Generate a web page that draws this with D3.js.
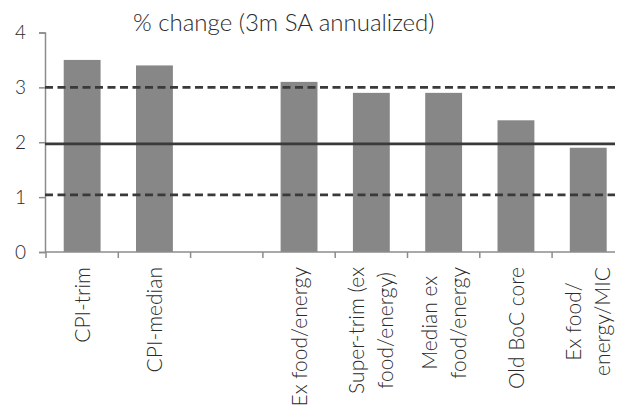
<!DOCTYPE html>
<html><head><meta charset="utf-8">
<script src="https://cdn.jsdelivr.net/npm/d3@7"></script>
<style>
html,body{margin:0;padding:0;background:#fff;}
svg{display:block;}
text{font-family:"Lato",sans-serif;font-weight:300;fill:#2a2a2a;}
</style></head>
<body><svg id="c" width="621" height="407"></svg>
<script>
const categories = [["CPI-trim"],["CPI-median"],[""],["Ex food/energy"],["Super-trim (ex","food/energy)"],["Median ex","food/energy"],["Old BoC core"],["Ex food/","energy/MIC"]];
const values = [3.5, 3.4, null, 3.1, 2.9, 2.9, 2.4, 1.9];
const yTicks = [0, 1, 2, 3, 4];
const upperBand = 3.0;
const target = 1.97;
const lowerBand = 1.04;
const title = "% change (3m SA annualized)";

const svg = d3.select("#c");
const ids = categories.map((d,i)=>i);
const x = d3.scaleBand().domain(ids).range([46, 624.4]).paddingInner(0).paddingOuter(0);
const y = d3.scaleLinear().domain([0,4]).range([252, 32.5]);
const xEnd = 615;
const barW = x.bandwidth()*0.51;

svg.append("g").selectAll("rect").data(values.map((v,i)=>({v,i})).filter(d=>d.v!=null))
  .join("rect")
  .attr("x", d=>x(d.i)+x.bandwidth()/2-barW/2)
  .attr("width", barW)
  .attr("y", d=>y(d.v))
  .attr("height", d=>y(0)-y(d.v))
  .attr("fill", "#878787");

const ya = svg.append("g").attr("transform","translate(45,0)")
  .call(d3.axisLeft(y).tickValues(yTicks).tickFormat(d3.format("d")).tickSize(6).tickPadding(13));
ya.select(".domain").attr("stroke","#8c8c8c").attr("stroke-width",1.5);
ya.selectAll(".tick line").attr("stroke","#8c8c8c").attr("stroke-width",1.5);
ya.selectAll(".tick text").attr("font-size",19).attr("font-family","Lato").attr("font-weight",300).attr("fill","#2a2a2a");

const xg = svg.append("g");
xg.append("line").attr("x1",45).attr("x2",xEnd).attr("y1",y(0)).attr("y2",y(0))
  .attr("stroke","#8c8c8c").attr("stroke-width",1.5);
xg.selectAll("line.t").data(ids).join("line").attr("class","t")
  .attr("x1",d=>x(d)).attr("x2",d=>x(d)).attr("y1",y(0)).attr("y2",y(0)+6)
  .attr("stroke","#8c8c8c").attr("stroke-width",1.5);

const refs = [{v:upperBand,dash:"8,4.5"},{v:target,dash:null},{v:lowerBand,dash:"8,4.5"}];
svg.append("g").selectAll("line").data(refs).join("line")
  .attr("x1",45).attr("x2",xEnd).attr("y1",d=>y(d.v)).attr("y2",d=>y(d.v))
  .attr("stroke","#3a3a3a").attr("stroke-width",2.8)
  .attr("stroke-dasharray",d=>d.dash);

const labTop = 267, lineH = 29, fs = 21;
categories.forEach((lines,i)=>{
  if(!lines[0]) return;
  const cx = x(i)+x.bandwidth()/2;
  const g = svg.append("g");
  const t = g.append("text").attr("font-size",fs).attr("text-anchor","middle");
  const n = lines.length;
  lines.forEach((s,j)=>{
    t.append("tspan").attr("x",0).attr("y",(j-(n-1)/2)*lineH + fs*0.36).text(s);
  });
  let maxLen = 0;
  t.selectAll("tspan").each(function(){ maxLen = Math.max(maxLen, this.getComputedTextLength()); });
  g.attr("transform",`translate(${cx},${labTop+maxLen/2}) rotate(-90)`);
});

svg.append("text").attr("x",133).attr("y",31).attr("font-size",24).text(title);
</script></body></html>
